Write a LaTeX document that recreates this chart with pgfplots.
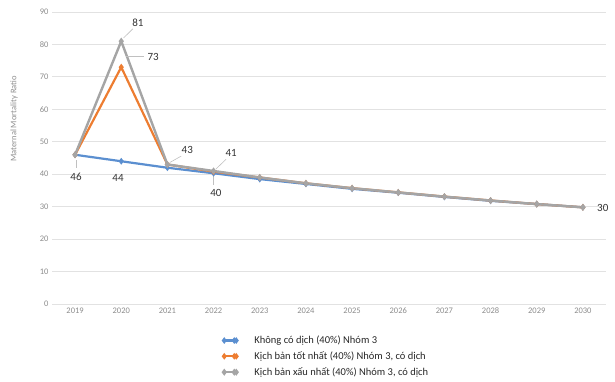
\documentclass[border=0pt]{standalone}
\usepackage{fontspec}
\setmainfont{Carlito}
\usepackage{pgfplots}
\pgfplotsset{compat=1.18}
\definecolor{sBlue}{HTML}{5B8FD0}
\definecolor{sOrange}{HTML}{ED7D31}
\definecolor{sGray}{HTML}{A5A5A5}
\definecolor{gridc}{HTML}{E2E2E2}
\definecolor{tickc}{HTML}{8C8C8C}
\definecolor{lblc}{HTML}{333333}
\begin{document}
\begin{tikzpicture}[x=1pt,y=1pt]
\useasboundingbox (0,0) rectangle (615,381);
\begin{axis}[
  at={(52pt,77pt)}, anchor=south west,
  scale only axis, width=554pt, height=292pt,
  xmin=-0.5, xmax=11.5, ymin=0, ymax=90,
  xtick={0,...,11},
  xticklabels={2019,2020,2021,2022,2023,2024,2025,2026,2027,2028,2029,2030},
  ytick={0,10,...,90},
  axis line style={draw=none},
  major tick length=0pt,
  ymajorgrids, grid style={gridc, line width=0.8pt},
  tick label style={font=\fontsize{8.5}{9}\selectfont, text=tickc},
  /pgf/number format/assume math mode=true,
  ylabel={Maternal Mortality Ratio},
  every axis y label/.style={at={(rel axis cs:0,0.634)}, xshift=-38pt, rotate=90,
    anchor=center, font=\fontsize{8.5}{9}\selectfont, text=tickc},
  legend style={at={(rel axis cs:0.303,-0.095)}, anchor=north west, draw=none, fill=none,
    font=\fontsize{10.5}{12}\selectfont, row sep=2.5pt, column sep=15pt,
    cells={anchor=west, text=black!85}},
  legend image code/.code={\draw plot coordinates {(0pt,0pt)(12pt,0pt)};
    \draw[mark repeat=1] plot coordinates {(10pt,0pt)};},
  clip=false,
]
% Scenario without the epidemic
\addplot[sBlue, line width=2.2pt, mark=diamond*, mark size=1.6pt] coordinates {
 (0,46) (1,44) (2,42) (3,40.3) (4,38.5) (5,37) (6,35.5) (7,34.3) (8,33) (9,31.8) (10,30.8) (11,29.8)};
\addlegendentry{Không có dịch (40\%) Nhóm 3}
% Best case with the epidemic
\addplot[sOrange, line width=2.2pt, mark=diamond*, mark size=1.6pt] coordinates {
 (0,46) (1,73) (2,43) (3,40.8) (4,39) (5,37.2) (6,35.7) (7,34.4) (8,33.1) (9,31.9) (10,30.8) (11,29.8)};
\addlegendentry{Kịch bản tốt nhất (40\%) Nhóm 3, có dịch}
% Worst case with the epidemic
\addplot[sGray, line width=2.4pt, mark=diamond*, mark size=1.6pt] coordinates {
 (0,46) (1,81) (2,43) (3,41) (4,39) (5,37.2) (6,35.7) (7,34.4) (8,33.1) (9,31.9) (10,30.8) (11,29.8)};
\addlegendentry{Kịch bản xấu nhất (40\%) Nhóm 3, có dịch}

% value labels with leader lines
\begin{scope}[every node/.style={font=\fontsize{11}{12}\selectfont, text=lblc}]
\node at (axis cs:0.02,39.3) {46};
\draw[sGray!70, line width=0.6pt] (axis cs:0.02,44.3) -- (axis cs:0.02,41.8);
\node at (axis cs:0.93,38.8) {44};
\node at (axis cs:1.36,86.6) {81};
\draw[sGray!70, line width=0.6pt] (axis cs:1.05,82) -- (axis cs:1.25,84.8);
\node at (axis cs:1.69,76.1) {73};
\draw[sGray!70, line width=0.6pt] (axis cs:1.1,76.2) -- (axis cs:1.5,76.2);
\node at (axis cs:2.43,47.5) {43};
\draw[sGray!70, line width=0.6pt] (axis cs:2.05,43.6) -- (axis cs:2.3,45.6);
\node at (axis cs:3.38,46.6) {41};
\draw[sGray!70, line width=0.6pt] (axis cs:3.05,41.6) -- (axis cs:3.27,44.6);
\node at (axis cs:3.05,34.2) {40};
\draw[sGray!70, line width=0.6pt] (axis cs:3.0,39.6) -- (axis cs:3.0,36.6);
\node at (axis cs:11.43,29.6) {30};
\end{scope}
\end{axis}
\end{tikzpicture}
\end{document}
